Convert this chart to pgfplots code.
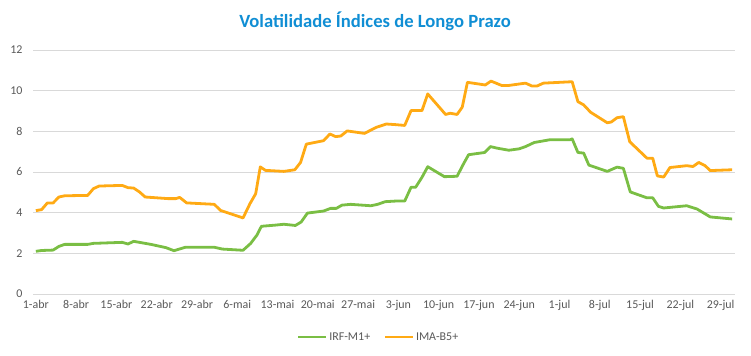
\documentclass[border=0pt]{standalone}
\usepackage{pgfplots}
\pgfplotsset{compat=1.18}
\usepackage{fontspec}
\setmainfont{Carlito}
\definecolor{irf}{RGB}{122,190,68}
\definecolor{ima}{RGB}{255,170,20}
\definecolor{ttl}{RGB}{16,142,212}
\definecolor{lbl}{RGB}{89,89,89}
\definecolor{grd}{RGB}{217,217,217}
\begin{document}
\begin{tikzpicture}
\useasboundingbox (0,0) rectangle (751bp,356bp);
\node[font=\fontsize{18.7}{22}\selectfont\bfseries, text=ttl] at (375bp,335bp) {Volatilidade Índices de Longo Prazo};
\begin{axis}[at={(33bp,62bp)}, anchor=south west, scale only axis,
  width=702bp, height=244bp,
  xmin=-0.5, xmax=121.5, ymin=0, ymax=12,
  ytick={0,2,...,12}, xtick={0,7,...,119},
  xticklabels={1-abr,8-abr,15-abr,22-abr,29-abr,6-mai,13-mai,20-mai,27-mai,3-jun,10-jun,17-jun,24-jun,1-jul,8-jul,15-jul,22-jul,29-jul},
  axis line style={draw=none}, ymajorgrids, grid style={grd, line width=0.8bp},
  major tick length=0pt,
  tick label style={font=\fontsize{12}{14}\selectfont, text=lbl},
  /pgf/number format/assume math mode=true,
  yticklabel style={xshift=-7bp},
  xticklabel style={yshift=-3bp},
  legend columns=2,
  legend style={at={(0.492,-0.176)}, anchor=center, draw=none, fill=none,
    font=\fontsize{12}{14}\selectfont, text=lbl,
    nodes={inner xsep=1.5bp},
    /tikz/every even column/.append style={column sep=12bp}},
  legend image code/.code={\draw[#1] (0bp,0bp) -- (28bp,0bp);},
  every axis plot/.append style={line width=2.8bp, line join=round, no markers},
]
\addplot[irf] coordinates {
(0,2.10) (1,2.14) (3,2.16) (4,2.34) (5,2.44) (9,2.44) (10,2.49) (15,2.54) (16,2.46) (17,2.59)
(20,2.44) (22.6,2.28) (24,2.13) (26,2.30) (31,2.30) (32.4,2.21) (36,2.15) (37.3,2.48) (38.4,2.89)
(39.2,3.33) (41.7,3.39) (43.1,3.43) (45.1,3.37) (46.1,3.54) (47.2,3.98) (50,4.08) (51.2,4.21)
(52.2,4.21) (53.2,4.37) (54.7,4.41) (58.2,4.34) (59.4,4.41) (60.7,4.54) (62.5,4.57) (64.1,4.57)
(65.2,5.25) (66,5.25) (67.1,5.74) (68.1,6.26) (71,5.77) (73.2,5.79) (74.3,6.39) (75.2,6.85)
(78,6.96) (79,7.25) (80.2,7.17) (82.2,7.07) (84,7.14) (85.1,7.25) (86.6,7.45) (89.4,7.59)
(92.9,7.59) (93.2,7.63) (94.2,6.96) (95.2,6.93) (96.1,6.34) (99.3,6.03) (101,6.24) (102.1,6.18)
(103.3,5.02) (106.2,4.73) (107.2,4.73) (108.2,4.31) (109.1,4.23) (113.1,4.34) (114.9,4.18)
(117.2,3.79) (121,3.69)
};
\addlegendentry{IRF-M1+}
\addplot[ima] coordinates {
(0,4.10) (1,4.15) (2,4.48) (3,4.48) (4,4.77) (5,4.83) (9,4.85) (10,5.18) (11,5.31) (15,5.34)
(16,5.23) (17,5.21) (18,5.02) (19,4.77) (20,4.75) (23,4.69) (24.3,4.69) (25,4.75) (26.2,4.48)
(31,4.41) (32.1,4.11) (36,3.74) (37.2,4.44) (38.2,4.93) (39,6.25) (39.9,6.08) (43.1,6.03)
(45,6.11) (46,6.47) (47,7.37) (50,7.54) (51.1,7.87) (52.1,7.74) (53,7.77) (54.1,8.02) (57.1,7.90)
(59.2,8.20) (60.9,8.36) (62.5,8.33) (64.1,8.29) (65.2,9.02) (67.1,9.02) (68.1,9.84) (71.2,8.83)
(72,8.89) (73.2,8.83) (74.1,9.19) (75,10.41) (78.1,10.28) (79.1,10.47) (81,10.25) (82,10.25)
(85.1,10.37) (86.2,10.23) (87.1,10.23) (88.2,10.37) (93.2,10.44) (94.2,9.46) (95.2,9.30)
(96.4,8.94) (99.3,8.42) (100,8.46) (101,8.67) (102.1,8.72) (103.2,7.49) (106.2,6.68) (107.2,6.68)
(108,5.81) (109.1,5.75) (110.2,6.22) (113.1,6.31) (114.2,6.27) (115.2,6.47) (116.3,6.31)
(117.2,6.07) (121,6.11)
};
\addlegendentry{IMA-B5+}
\end{axis}
\end{tikzpicture}
\end{document}
